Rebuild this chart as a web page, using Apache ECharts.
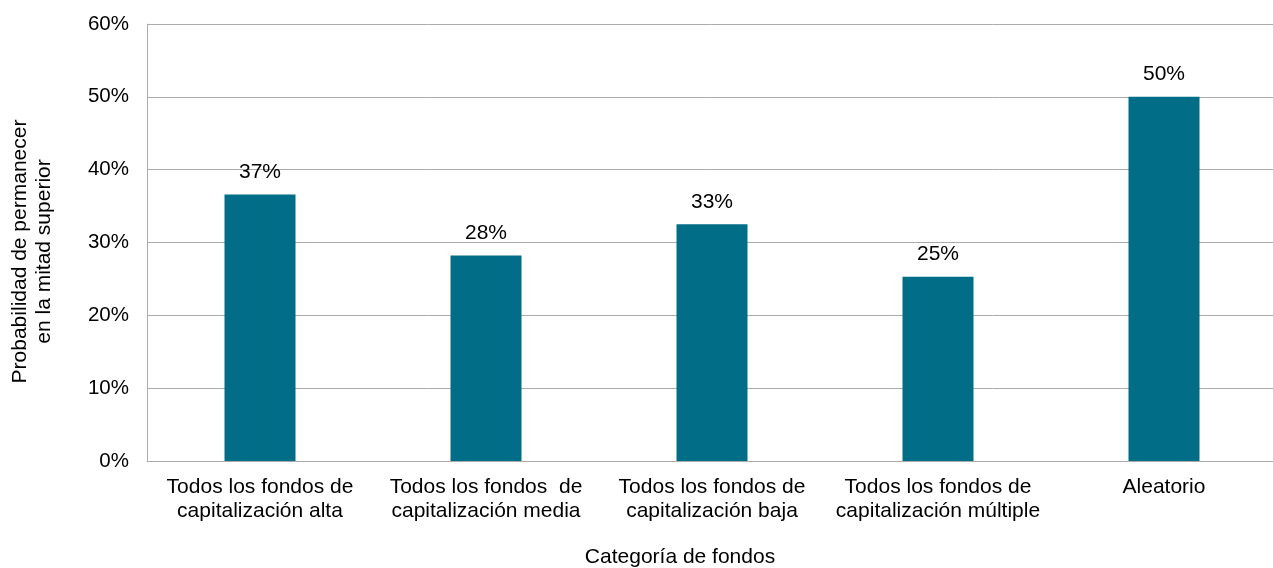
<!DOCTYPE html>
<html>
<head>
<meta charset="utf-8">
<script src="https://cdn.jsdelivr.net/npm/echarts@6/dist/echarts.min.js"></script>
<style>
  html, body { margin: 0; padding: 0; background: #fff; }
  #chart { width: 1273px; height: 568px; }
</style>
</head>
<body>
<div id="chart"></div>
<script>
const categories = [
  "Todos los fondos de\ncapitalización alta",
  "Todos los fondos  de\ncapitalización media",
  "Todos los fondos de\ncapitalización baja",
  "Todos los fondos de\ncapitalización múltiple",
  "Aleatorio"
]
const values = [0.366, 0.282, 0.325, 0.253, 0.50]
const yTicks = [0, 0.1, 0.2, 0.3, 0.4, 0.5, 0.6]

const font = "'Liberation Sans', Arial, sans-serif"
const chart = echarts.init(document.getElementById("chart"))

chart.setOption({
  animation: false,
  grid: { left: 147, top: 24, width: 1130, bottom: 107, outerBoundsMode: "none" },
  xAxis: {
    type: "category",
    data: categories,
    axisLine: { lineStyle: { color: "#ababab", width: 1 } },
    axisTick: { show: false },
    axisLabel: {
      interval: 0,
      margin: 14,
      color: "#000",
      fontFamily: font,
      fontSize: 21,
      lineHeight: 24
    }
  },
  yAxis: {
    type: "value",
    min: yTicks[0],
    max: yTicks[yTicks.length - 1],
    interval: 0.1,
    name: "Probabilidad de permanecer\nen la mitad superior",
    nameLocation: "middle",
    nameGap: 91,
    nameTextStyle: {
      color: "#000",
      fontFamily: font,
      fontSize: 21,
      lineHeight: 24,
      padding: [0, 0, 0, -18]
    },
    axisLine: { show: true, lineStyle: { color: "#ababab", width: 1 } },
    axisTick: { show: false },
    splitLine: { lineStyle: { color: "#ababab", width: 1 } },
    axisLabel: {
      margin: 18,
      color: "#000",
      fontFamily: font,
      fontSize: 20.5,
      formatter: (v) => Math.round(v * 100) + "%"
    }
  },
  graphic: [
    {
      type: "text",
      x: 680,
      y: 557,
      style: {
        text: "Categoría de fondos",
        fill: "#000",
        font: "21px " + font,
        textAlign: "center",
        textVerticalAlign: "middle"
      }
    }
  ],
  series: [
    {
      type: "bar",
      data: values,
      barWidth: 71,
      itemStyle: { color: "#016d87" },
      label: {
        show: true,
        position: "top",
        distance: 12,
        color: "#000",
        fontFamily: font,
        fontSize: 21,
        formatter: (p) => Math.round(p.value * 100) + "%"
      }
    }
  ]
})
</script>
</body>
</html>
